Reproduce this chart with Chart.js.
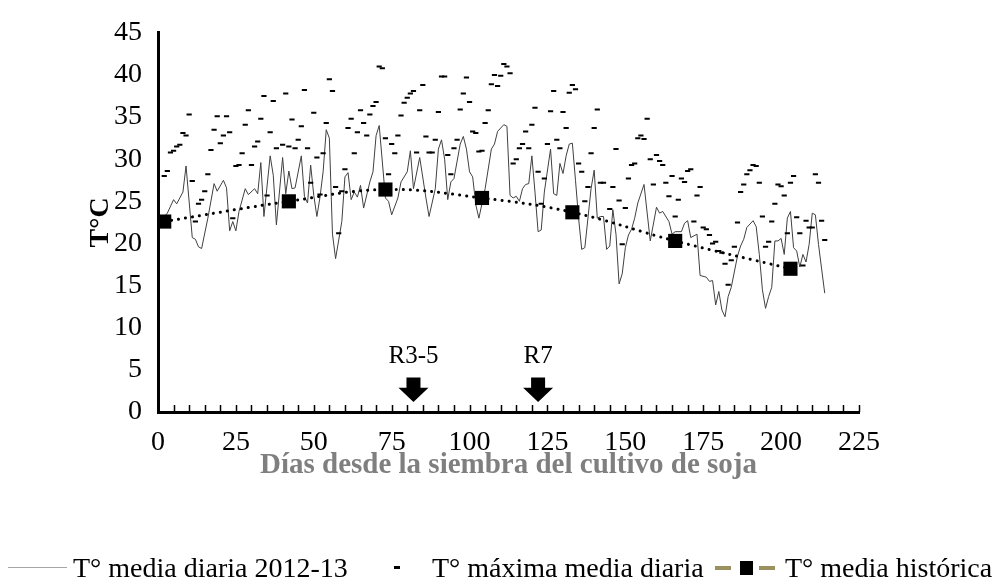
<!DOCTYPE html>
<html lang="es">
<head>
<meta charset="utf-8">
<title>Temperatura durante el cultivo de soja 2012-13</title>
<script src="https://cdn.jsdelivr.net/npm/chart.js@4.4.0/dist/chart.umd.min.js"></script>
<style>
  body { margin: 0; background: #fff; }
  #wrap { position: relative; width: 993px; height: 586px; font-family: "Liberation Serif", "Times New Roman", serif; }
  #leyenda { position: absolute; left: 0; top: 552px; width: 993px; height: 32px; font-size: 28px; color: #000; }
  #leyenda span { position: absolute; top: 0; line-height: 32px; white-space: nowrap; }
  #leyenda div { position: absolute; }
</style>
</head>
<body>
<div id="wrap">
  <canvas id="grafico" width="993" height="586"></canvas>
  <div id="leyenda">
    <div style="left:8px; top:15px; width:59px; height:1px; background:#a6a6a6;"></div>
    <span style="left:73px;">T° media diaria 2012-13</span>
    <div style="left:394px; top:14px; width:6px; height:3px; background:#000;"></div>
    <span style="left:432px;">T° máxima media diaria</span>
    <div style="left:715px; top:14px; width:16px; height:4px; background:#9b9160;"></div>
    <div style="left:740px; top:9px; width:13px; height:14px; background:#000;"></div>
    <div style="left:759px; top:14px; width:16px; height:4px; background:#9b9160;"></div>
    <span style="left:785px;">T° media histórica</span>
  </div>
</div>
<script>
// T° media diaria 2012-13
const diasMedia = [1, 3, 5, 6, 8, 9, 11, 12, 13, 14, 16, 18, 19, 21, 22, 23, 24, 25, 26, 28, 29, 31, 32, 33, 34, 36, 37, 38, 40, 41,
  42, 43, 44, 46, 47, 48, 49, 50, 51, 52, 53, 54, 55, 56, 57, 59, 60, 61, 62, 63, 64, 65, 66, 68, 69, 70, 71, 73, 74, 75,
  77, 78, 80, 81, 82, 84, 86, 87, 89, 90, 91, 92, 93, 94, 95, 97, 98, 99, 100, 101, 102, 103, 105, 107, 108, 109, 111, 112, 113, 114,
  115, 116, 117, 118, 119, 120, 121, 122, 123, 124, 126, 127, 128, 129, 130, 131, 132, 133, 134, 135, 136, 137, 139, 140, 141, 142, 143, 144, 145, 146,
  147, 148, 149, 150, 151, 152, 153, 154, 156, 158, 160, 161, 162, 164, 165, 166, 168, 169, 170, 171, 173, 174, 176, 177, 178, 179, 180, 181, 182, 183,
  184, 186, 187, 188, 189, 191, 192, 193, 194, 195, 196, 197, 198, 199, 200, 201, 202, 203, 204, 205, 206, 207, 208, 209, 210, 211, 212, 214];
const tMediaDiaria = [22.8, 23.6, 25.2, 24.7, 26.1, 29.2, 20.7, 20.5, 19.6, 19.4, 23.0, 27.1, 26.2, 27.5, 26.6, 21.5, 22.6, 21.5, 23.8, 26.5, 25.8, 26.5, 25.9, 29.6, 23.2, 30.4, 28.1, 22.2, 30.2, 25.9,
  28.6, 26.5, 26.6, 30.4, 25.6, 24.8, 29.3, 25.7, 23.2, 25.5, 28.5, 33.5, 32.5, 21.1, 18.2, 22.6, 27.9, 28.4, 25.2, 26.1, 25.5, 26.9, 24.2, 27.3, 28.5, 32.8, 34.0, 25.4, 25.0, 23.4,
  25.4, 27.3, 28.5, 31.0, 26.5, 30.2, 25.4, 23.2, 26.5, 31.2, 32.3, 30.0, 25.2, 27.3, 27.7, 31.8, 32.7, 31.2, 28.5, 27.9, 24.6, 23.0, 26.5, 31.2, 31.8, 33.3, 34.1, 33.9, 25.7, 25.4,
  25.6, 25.0, 26.5, 27.0, 27.1, 30.4, 26.1, 21.4, 21.6, 26.1, 31.2, 25.9, 25.7, 29.5, 28.3, 30.4, 31.8, 31.9, 27.5, 23.0, 19.3, 19.5, 26.5, 28.7, 23.0, 23.2, 23.2, 19.3, 19.7, 24.0,
  21.1, 15.2, 16.4, 19.5, 21.0, 21.7, 23.0, 24.8, 27.0, 20.3, 24.3, 23.6, 23.8, 22.6, 21.1, 21.4, 21.4, 22.4, 22.7, 20.7, 21.1, 16.2, 16.0, 15.5, 15.6, 12.7, 14.3, 12.1, 11.3, 13.7,
  14.8, 18.5, 19.7, 20.5, 21.9, 22.7, 22.0, 18.7, 14.5, 12.3, 13.7, 14.8, 20.3, 20.3, 20.6, 18.7, 23.0, 23.8, 19.5, 19.1, 17.2, 18.7, 17.8, 19.9, 23.6, 23.4, 19.9, 14.1];

// T° máxima media diaria
const diasMaxima = [2, 3, 4, 5, 6, 7, 8, 9, 10, 11, 12, 13, 14, 15, 16, 17, 18, 19, 20, 21, 22, 23, 24, 25, 26, 27, 28, 29, 30, 31,
  32, 33, 34, 35, 36, 37, 38, 40, 41, 42, 43, 44, 45, 46, 47, 48, 49, 50, 51, 52, 53, 54, 55, 56, 57, 58, 59, 60, 61, 62,
  63, 64, 65, 66, 67, 68, 69, 70, 71, 72, 73, 74, 75, 76, 77, 78, 79, 80, 81, 82, 83, 84, 85, 86, 87, 88, 89, 90, 91, 92,
  93, 94, 95, 96, 97, 98, 99, 100, 101, 102, 103, 104, 105, 106, 107, 108, 109, 110, 111, 112, 113, 114, 115, 116, 117, 118, 119, 120, 121, 122,
  123, 124, 125, 126, 127, 128, 129, 130, 131, 132, 133, 134, 135, 136, 137, 138, 139, 140, 141, 142, 143, 145, 146, 147, 148, 149, 150, 151, 152, 153,
  154, 155, 156, 157, 158, 159, 160, 161, 162, 163, 164, 165, 166, 167, 168, 169, 170, 171, 172, 173, 174, 175, 176, 177, 178, 179, 180, 181, 182, 183,
  184, 185, 186, 187, 188, 189, 190, 191, 192, 193, 194, 195, 196, 197, 198, 199, 200, 201, 202, 203, 204, 205, 206, 207, 208, 209, 210, 211, 212, 213, 214];
const tMaximaMedia = [28.0, 28.6, 30.8, 31.0, 31.5, 31.7, 33.1, 32.8, 35.3, 27.4, 22.6, 24.7, 25.2, 26.2, 28.2, 31.1, 33.5, 35.1, 31.9, 32.8, 35.1, 33.2, 23.0, 29.2, 29.3, 30.7, 34.1, 35.8, 29.3, 31.5,
  32.1, 34.8, 37.5, 25.7, 33.2, 36.9, 31.3, 31.7, 37.8, 31.5, 34.7, 31.3, 32.3, 33.9, 38.2, 31.3, 27.2, 35.5, 30.2, 25.8, 30.7, 34.3, 39.5, 38.1, 26.7, 21.2, 26.2, 28.8, 33.7, 34.8,
  30.7, 33.2, 35.8, 34.3, 32.8, 35.3, 36.3, 36.8, 41.0, 40.8, 32.5, 28.2, 31.8, 30.7, 32.8, 35.2, 36.7, 37.3, 37.8, 38.1, 30.8, 35.8, 38.8, 32.7, 30.8, 30.8, 32.3, 35.6, 39.8, 39.8,
  30.5, 28.2, 31.3, 32.3, 35.9, 37.8, 39.7, 36.8, 33.3, 33.1, 30.9, 31.0, 34.3, 35.8, 38.9, 40.0, 38.7, 39.9, 41.3, 41.0, 40.2, 29.5, 30.0, 31.3, 31.8, 33.3, 31.3, 34.1, 36.1, 28.5,
  24.7, 27.7, 31.8, 35.7, 38.1, 32.3, 31.3, 35.6, 33.7, 37.9, 38.8, 38.3, 29.5, 28.5, 25.0, 26.7, 30.7, 33.7, 35.9, 27.2, 27.2, 24.1, 26.7, 31.2, 25.1, 19.9, 24.2, 27.7, 29.3, 29.5,
  32.5, 32.8, 32.4, 34.8, 30.0, 27.0, 30.5, 29.8, 29.3, 27.2, 25.6, 28.0, 23.2, 25.2, 27.7, 27.3, 28.6, 28.8, 22.6, 25.7, 26.7, 21.9, 21.7, 21.0, 20.0, 20.2, 19.1, 18.9, 17.6, 15.1,
  18.0, 19.6, 22.5, 26.1, 27.0, 28.2, 28.7, 29.3, 29.2, 27.2, 23.2, 19.6, 20.2, 22.6, 24.7, 27.0, 26.8, 25.7, 21.2, 27.2, 28.0, 23.1, 21.2, 17.4, 22.7, 21.9, 21.9, 28.2, 27.2, 22.7, 20.4];

// T° media histórica
const diasHistorica = [2, 42, 73, 104, 133, 166, 203];
const tMediaHistorica = [22.6, 25.0, 26.4, 25.4, 23.7, 20.3, 17.0];

// estados fenológicos marcados con flecha
const etapasDia = [82, 122];
const etapasNombre = ["R3-5", "R7"];

const aPuntos = (xs, ys) => xs.map((x, i) => ({ x: x, y: ys[i] }));

Chart.defaults.font.family = '"Liberation Serif", "Times New Roman", serif';
Chart.defaults.color = "#000";

const marcas = {
  id: "marcas",
  afterDatasetsDraw(chart) {
    const ctx = chart.ctx;
    const xs = chart.scales.x;
    const ys = chart.scales.y;
    ctx.save();
    ctx.fillStyle = "#000";
    ctx.font = '25px "Liberation Serif", serif';
    ctx.textAlign = "center";
    ctx.textBaseline = "middle";
    etapasDia.forEach((dia, i) => {
      const x = xs.getPixelForValue(dia);
      const yTop = ys.getPixelForValue(4.1);
      const yBot = ys.getPixelForValue(1.2);
      const yHead = yTop + (yBot - yTop) * 0.42;
      ctx.beginPath();
      ctx.moveTo(x - 7, yTop);
      ctx.lineTo(x + 7, yTop);
      ctx.lineTo(x + 7, yHead);
      ctx.lineTo(x + 15, yHead);
      ctx.lineTo(x, yBot);
      ctx.lineTo(x - 15, yHead);
      ctx.lineTo(x - 7, yHead);
      ctx.closePath();
      ctx.fill();
      ctx.fillText(etapasNombre[i], x, ys.getPixelForValue(6.6));
    });
    ctx.restore();
  },
  afterDraw(chart) {
    // marcas menores hacia adentro cada 5 días
    const ctx = chart.ctx;
    const xs = chart.scales.x;
    const y0 = chart.chartArea.bottom;
    ctx.save();
    ctx.strokeStyle = "#000";
    ctx.lineWidth = 1.5;
    ctx.beginPath();
    for (let v = xs.min; v <= xs.max; v += 5) {
      const x = Math.round(xs.getPixelForValue(v)) + 0.5;
      ctx.moveTo(x, y0);
      ctx.lineTo(x, y0 - 7);
    }
    ctx.stroke();
    ctx.restore();
  }
};

new Chart(document.getElementById("grafico"), {
  type: "line",
  data: {
    datasets: [
      {
        label: "T° media histórica",
        data: aPuntos(diasHistorica, tMediaHistorica),
        borderColor: "#000",
        borderWidth: 3,
        borderDash: [0.1, 7],
        borderCapStyle: "round",
        tension: 0.4,
        pointStyle: "rect",
        pointRadius: 10,
        pointBackgroundColor: "#000",
        pointBorderWidth: 0,
        clip: false,
      },
      {
        label: "T° máxima media diaria",
        data: aPuntos(diasMaxima, tMaximaMedia),
        showLine: false,
        pointStyle: "line",
        pointRadius: 2.6,
        pointBorderWidth: 2,
        pointBorderColor: "#000",
        borderColor: "#000",
      },
      {
        label: "T° media diaria 2012-13",
        data: aPuntos(diasMedia, tMediaDiaria),
        borderColor: "#404040",
        borderWidth: 1,
        pointRadius: 0,
        tension: 0,
      },
    ],
  },
  options: {
    responsive: false,
    animation: false,
    events: [],
    layout: {
      padding: { left: 0, right: 134, top: 27, bottom: 100 },
    },
    plugins: {
      legend: { display: false },
      tooltip: { enabled: false },
    },
    scales: {
      x: {
        type: "linear",
        min: 0,
        max: 225,
        ticks: { stepSize: 25, font: { size: 28 }, padding: 14, color: "#000" },
        grid: { display: false, drawTicks: false },
        border: { color: "#000", width: 3 },
        title: {
          display: true,
          text: "Días desde la siembra del cultivo de soja",
          color: "#7f7f7f",
          font: { size: 29, weight: "bold" },
          padding: { top: 0, bottom: 3 },
        },
        afterFit: (scale) => { scale.height = 74; },
      },
      y: {
        min: 0,
        max: 45,
        ticks: { stepSize: 5, font: { size: 28 }, padding: 16, color: "#000" },
        grid: { display: false, drawTicks: false },
        border: { color: "#000", width: 3 },
        title: {
          display: true,
          text: "T°C",
          color: "#000",
          font: { size: 28, weight: "bold" },
          padding: { top: 84, bottom: 0 },
        },
        afterFit: (scale) => { scale.width = 158; },
      },
    },
  },
  plugins: [marcas],
});
</script>
</body>
</html>
